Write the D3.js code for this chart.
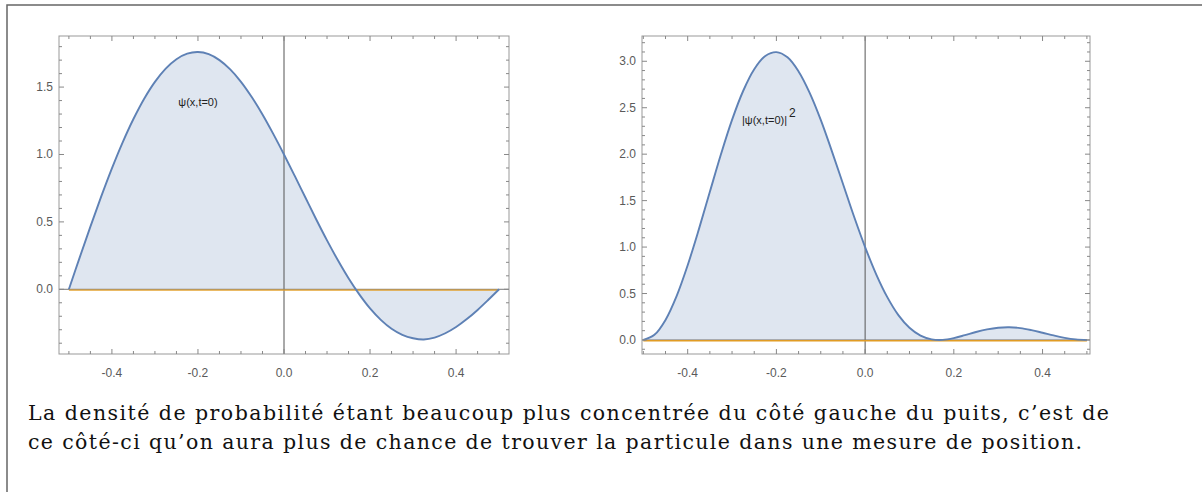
<!doctype html>
<html>
<head>
<meta charset="utf-8">
<title>psi</title>
<style>
  html, body { margin: 0; padding: 0; background: #fff; }
  svg { display: block; }
</style>
</head>
<body>
<svg id="chart" width="1202" height="492"></svg>
<script src="https://cdn.jsdelivr.net/npm/d3@7"></script>
<script>
// positions x du puits
var xs = [-0.5, -0.475, -0.45, -0.425, -0.4, -0.375, -0.35, -0.325, -0.3, -0.275,
  -0.25, -0.225, -0.2, -0.175, -0.15, -0.125, -0.1, -0.075, -0.05, -0.025,
  0, 0.025, 0.05, 0.075, 0.1, 0.125, 0.15, 0.175, 0.2, 0.225,
  0.25, 0.275, 0.3, 0.325, 0.35, 0.375, 0.4, 0.425, 0.45, 0.475, 0.5];
// psi(x,t=0)
var psi = [0, 0.235, 0.465, 0.687, 0.897, 1.090, 1.263, 1.414, 1.539, 1.637,
  1.707, 1.748, 1.760, 1.744, 1.700, 1.631, 1.539, 1.426, 1.297, 1.153,
  1.000, 0.841, 0.679, 0.518, 0.363, 0.217, 0.082, -0.038, -0.142, -0.227,
  -0.293, -0.338, -0.363, -0.372, -0.358, -0.326, -0.280, -0.221, -0.153, -0.078, 0];
// |psi|^2
var dens = [0, 0.055, 0.216, 0.472, 0.805, 1.188, 1.595, 1.999, 2.369, 2.680,
  2.914, 3.056, 3.098, 3.042, 2.890, 2.660, 2.369, 2.033, 1.682, 1.329,
  1.000, 0.707, 0.461, 0.268, 0.132, 0.047, 0.007, 0.001, 0.020, 0.052,
  0.086, 0.114, 0.132, 0.137, 0.128, 0.106, 0.078, 0.049, 0.023, 0.006, 0];

var xTicks = [-0.4, -0.2, 0.0, 0.2, 0.4];
var yTicksL = [0.0, 0.5, 1.0, 1.5];
var yTicksR = [0.0, 0.5, 1.0, 1.5, 2.0, 2.5, 3.0];

var caption = [
  "La densité de probabilité étant beaucoup plus concentrée du côté gauche du puits, c\u2019est de",
  "ce côté-ci qu\u2019on aura plus de chance de trouver la particule dans une mesure de position."
];

var blue = "#5e81b5", orange = "#e19c24";
var svg = d3.select("#chart");

// cadre extérieur
svg.append("path").attr("d", "M7,492V5H1202")
  .attr("fill", "none").attr("stroke", "#666").attr("stroke-width", 1.5);

function range(a, b, s) {
  var r = [];
  for (var v = a; v <= b + 1e-9; v += s) r.push(Math.round(v * 1000) / 1000);
  return r;
}

function plot(o) {
  var x = d3.scaleLinear().domain(o.xd).range([o.left, o.right]);
  var y = d3.scaleLinear().domain(o.yd).range([354, 36]);
  var g = svg.append("g");
  var pts = xs.map(function(d, i) { return [d, o.vals[i]]; });

  var area = d3.area().x(function(d) { return x(d[0]); })
    .y0(y(0)).y1(function(d) { return y(d[1]); }).curve(d3.curveCatmullRom);
  var line = d3.line().x(function(d) { return x(d[0]); })
    .y(function(d) { return y(d[1]); }).curve(d3.curveCatmullRom);

  g.append("path").attr("d", area(pts)).attr("fill", blue).attr("fill-opacity", 0.2);

  // axes
  g.append("line").attr("x1", x(0)).attr("x2", x(0)).attr("y1", 36).attr("y2", 354)
    .attr("stroke", "#555").attr("stroke-width", 1);
  g.append("line").attr("x1", o.left).attr("x2", o.right).attr("y1", y(0)).attr("y2", y(0))
    .attr("stroke", "#777").attr("stroke-width", 1);
  g.append("line").attr("x1", x(-0.5)).attr("x2", x(0.5)).attr("y1", y(0) + 0.8).attr("y2", y(0) + 0.8)
    .attr("stroke", orange).attr("stroke-width", 1.6).attr("stroke-opacity", o.orangeOp);

  g.append("path").attr("d", line(pts)).attr("fill", "none")
    .attr("stroke", blue).attr("stroke-width", 1.9);

  // cadre
  g.append("rect").attr("x", o.left).attr("y", 36)
    .attr("width", o.right - o.left).attr("height", 318)
    .attr("fill", "none").attr("stroke", "#999").attr("stroke-width", 1);

  // graduations
  var tickCol = "#888";
  range(-0.5, 0.5, 0.05).forEach(function(v) {
    var major = xTicks.some(function(t) { return Math.abs(t - v) < 1e-6; });
    var len = major ? 5 : 3;
    g.append("line").attr("x1", x(v)).attr("x2", x(v)).attr("y1", 354).attr("y2", 354 - len)
      .attr("stroke", tickCol);
    g.append("line").attr("x1", x(v)).attr("x2", x(v)).attr("y1", 36).attr("y2", 36 + len)
      .attr("stroke", tickCol);
  });
  range(o.minor[0], o.minor[1], 0.1).forEach(function(v) {
    var major = o.yt.some(function(t) { return Math.abs(t - v) < 1e-6; });
    var len = major ? 5 : 3;
    g.append("line").attr("y1", y(v)).attr("y2", y(v)).attr("x1", o.left).attr("x2", o.left + len)
      .attr("stroke", tickCol);
    g.append("line").attr("y1", y(v)).attr("y2", y(v)).attr("x1", o.right).attr("x2", o.right - len)
      .attr("stroke", tickCol);
  });

  g.selectAll(".xl").data(xTicks).enter().append("text")
    .attr("x", function(d) { return x(d); }).attr("y", 377)
    .attr("text-anchor", "middle").attr("font-family", "Liberation Sans, Arial, sans-serif")
    .attr("font-size", 12).attr("fill", "#5a5a5a")
    .text(function(d) { return d === 0 ? "0.0" : d3.format(".1f")(d).replace("\u2212", "-"); });

  g.selectAll(".yl").data(o.yt).enter().append("text")
    .attr("x", o.left - 6).attr("y", function(d) { return y(d) + 4; })
    .attr("text-anchor", "end").attr("font-family", "Liberation Sans, Arial, sans-serif")
    .attr("font-size", 12).attr("fill", "#5a5a5a")
    .text(function(d) { return d3.format(".1f")(d); });
  return g;
}

var gL = plot({ left: 59, right: 509, xd: [-0.523, 0.523], yd: [-0.48, 1.879],
  vals: psi, yt: yTicksL, minor: [-0.4, 1.8], orangeOp: 0.7 });
var gR = plot({ left: 642, right: 1090, xd: [-0.503, 0.507], yd: [-0.151, 3.272],
  vals: dens, yt: yTicksR, minor: [-0.1, 3.2], orangeOp: 1 });

gL.append("text").attr("x", 198).attr("y", 106).attr("text-anchor", "middle")
  .attr("font-family", "Liberation Sans, Arial, sans-serif").attr("font-size", 11)
  .attr("fill", "#222").text("\u03c8(x,t=0)");

var t = gR.append("text").attr("x", 742).attr("y", 124)
  .attr("font-family", "Liberation Sans, Arial, sans-serif").attr("font-size", 11)
  .attr("fill", "#222");
t.append("tspan").text("|\u03c8(x,t=0)|");
t.append("tspan").attr("dy", -7).attr("dx", 2).attr("font-size", 12).text("2");

svg.selectAll(".cap").data(caption).enter().append("text")
  .attr("x", 28).attr("y", function(d, i) { return 420 + i * 29; })
  .attr("font-family", "DejaVu Serif, Liberation Serif, serif").attr("font-size", 20.5)
  .attr("fill", "#111")
  .attr("textLength", function(d, i) { return i === 0 ? 1081 : 1054; })
  .attr("lengthAdjust", "spacing")
  .text(function(d) { return d; });
</script>
</body>
</html>
